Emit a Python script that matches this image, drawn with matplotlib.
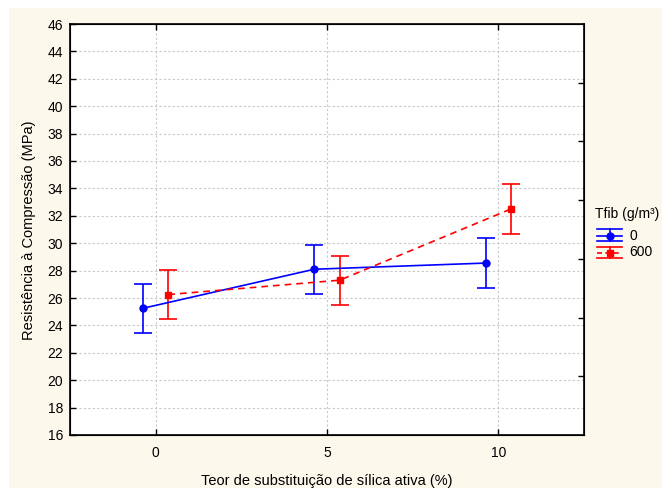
import matplotlib
matplotlib.use("Agg")
import matplotlib.pyplot as plt
from matplotlib.lines import Line2D
from matplotlib.patches import Rectangle
import numpy as np

plt.rcParams['font.family'] = ['Liberation Sans', 'DejaVu Sans']

# Data
silica = [0, 5, 10]
groups = ["0", "600"]
mean_0 = [25.25, 28.1, 28.55]
err_0 = [1.8, 1.8, 1.8]
mean_600 = [26.25, 27.3, 32.5]
err_600 = [1.8, 1.8, 1.8]
yticks = list(range(16, 47, 2))
xticks = [0, 5, 10]

W, H = 662, 488
fig = plt.figure(figsize=(W / 100, H / 100), dpi=100, facecolor='white')
fig.patches.append(Rectangle((9 / W, 0), 1, 1 - 8 / H, transform=fig.transFigure,
                             facecolor='#FDF8EC', edgecolor='none', zorder=-10))

ax = fig.add_axes([70 / W, (H - 435) / H, (584 - 70) / W, (435 - 24) / H])
ax.set_facecolor('white')

dodge = 0.37
x0 = np.array(silica) - dodge
x1 = np.array(silica) + dodge

ax.errorbar(x0, mean_0, yerr=err_0, color='#0000FF', lw=1.2, marker='o', ms=5,
            capsize=6.5, capthick=1.2, elinewidth=1.2, zorder=3)
ax.errorbar(x1, mean_600, yerr=err_600, color='#FF0000', lw=1.2, ls=(0, (4, 3)),
            marker='s', ms=5, capsize=6.5, capthick=1.2, elinewidth=1.2, zorder=3)

ax.set_xlim(-2.5, 12.5)
ax.set_ylim(16, 46)
ax.set_xticks(xticks)
ax.set_yticks(yticks)
ax.grid(True, color='#C8C8C8', lw=0.8, ls=(0, (2, 2)))
ax.set_axisbelow(True)
ax.tick_params(axis='y', direction='in', length=4, width=1, labelsize=10, pad=5)
ax.tick_params(axis='x', direction='in', length=4, width=1, labelsize=10, pad=8, top=True)
for s in ax.spines.values():
    s.set_linewidth(1.2)

ax2 = ax.twinx()
ax2.set_ylim(0, 7)
ax2.set_yticks(range(1, 7))
ax2.set_yticklabels([])
ax2.tick_params(axis='y', direction='in', length=4, width=1)

fig.text(327 / W, 1 - 480.5 / H, "Teor de substituição de sílica ativa (%)",
         ha='center', va='center', fontsize=10.5)
fig.text(29 / W, 1 - 230 / H, "Resistência à Compressão (MPa)",
         ha='center', va='center', rotation=90, fontsize=10.5)

# Legend (manual, errorbar-style handles)
fig.text(595 / W, 1 - 214 / H, "Tfib (g/m³)", ha='left', va='center', fontsize=10)
handles = [
    ("#0000FF", '-', 'o', 229, 235.5, 241, groups[0]),
    ("#FF0000", (0, (3, 2)), 's', 247, 252.5, 258, groups[1]),
]
for col, ls, mk, yt, ym, yb, lab in handles:
    def fy(p):
        return 1 - p / H
    fig.add_artist(Line2D([597 / W, 622 / W], [fy(yt), fy(yt)], color=col, lw=1.2,
                          transform=fig.transFigure))
    fig.add_artist(Line2D([597 / W, 622 / W], [fy(yb), fy(yb)], color=col, lw=1.2,
                          transform=fig.transFigure))
    fig.add_artist(Line2D([610 / W, 610 / W], [fy(yt), fy(yb)], color=col, lw=1.2,
                          transform=fig.transFigure))
    fig.add_artist(Line2D([597 / W, 622 / W], [fy(ym), fy(ym)], color=col, lw=1.2, ls=ls,
                          transform=fig.transFigure))
    fig.add_artist(Line2D([610 / W], [fy(ym)], color=col, marker=mk, ms=5, lw=0,
                          transform=fig.transFigure))
    fig.text(629 / W, fy(ym), lab, ha='left', va='center', fontsize=10)

fig.savefig("out.png", dpi=100, facecolor=fig.get_facecolor())
